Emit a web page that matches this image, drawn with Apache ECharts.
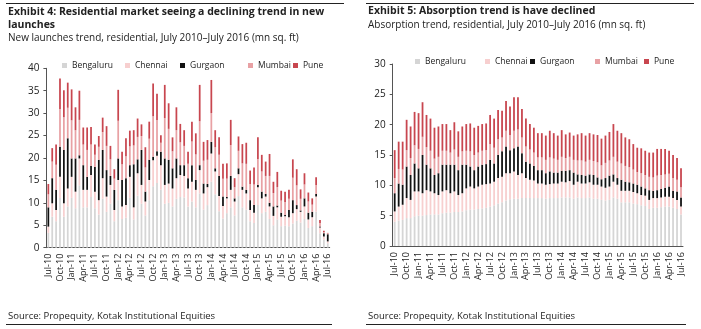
<!DOCTYPE html>
<html>
<head>
<meta charset="utf-8">
<script src="https://cdn.jsdelivr.net/npm/echarts@6/dist/echarts.min.js"></script>
<style>
  html, body { margin: 0; padding: 0; background: #fff; }
  #chart { width: 701px; height: 329px; }
</style>
</head>
<body>
<div id="chart"></div>
<script>
// Month labels, July 2010 to July 2016
const monthNames = ['Jan','Feb','Mar','Apr','May','Jun','Jul','Aug','Sep','Oct','Nov','Dec'];
const categories = [];
for (let y = 2010, m = 6; y < 2016 || (y === 2016 && m <= 6); m++) {
  if (m === 12) { m = 0; y++; }
  if (y === 2016 && m > 6) break;
  categories.push(monthNames[m] + '-' + String(y).slice(2));
}

const cities = ['Bengaluru', 'Chennai', 'Gurgaon', 'Mumbai', 'Pune'];

// New launches (mn sq. ft)
const launchBengaluru = [3.3,6.9,5.9,11.1,6.9,9.2,11.1,8.8,13.9,9.0, 9.0,11.3,8.8,7.4,10.9,8.0,9.8,5.9,10.6,6.4, 6.7,11.1,6.3,11.6,9.8,7.2,10.6,13.7,14.4,12.9, 9.8,10.0,9.2,10.9,11.3,11.2,9.2,10.3,9.0,12.1, 8.5,9.5,14.7,11.9,8.1,6.5,7.7,9.0,7.2,11.5, 9.0,8.5,5.9,5.5,9.5,7.7,8.0,6.4,5.0,6.3, 4.8,4.9,4.8,5.4,6.0,5.6,6.4,4.4,4.8,8.0, 3.2,1.8,1.0];
const launchChennai = [1.4,3.0,2.5,4.7,3.0,4.0,4.7,3.7,6.0,3.9, 3.9,4.9,3.7,3.2,4.6,3.4,4.2,2.5,4.5,2.8, 2.8,4.7,2.7,5.0,4.2,3.1,4.5,5.8,6.1,5.5, 4.2,4.3,4.0,4.6,4.9,4.8,4.0,4.4,3.9,5.2, 3.6,4.0,6.3,5.1,3.4,2.8,3.3,3.9,3.1,4.9, 3.9,3.6,2.5,2.3,4.0,3.3,3.4,2.8,2.1,2.7, 2.1,2.1,2.0,2.3,2.6,2.4,2.8,1.9,2.0,3.4, 1.3,0.7,0.4];
const launchGurgaon = [4.3,5.6,4.5,6.7,11.9,11.2,4.1,7.4,0.7,5.5, 2.9,2.0,5.5,9.0,6.3,5.9,2.0,4.5,4.8,5.9, 6.0,2.6,9.6,3.1,7.8,2.2,4.5,0.8,1.0,3.0, 5.9,5.3,4.5,4.4,2.2,2.4,2.3,3.7,2.2,1.1, 2.2,0.7,2.6,0.7,4.5,2.1,0.3,3.1,0.7,1.3, 0.7,0.8,2.2,1.7,0.5,1.5,0.6,0.8,2.1,0.4, 0.9,0.3,1.6,2.9,0.9,0.3,1.8,1.5,1.2,0.6, 0.2,0.7,1.6];
const launchMumbai = [2.9,3.7,5.6,8.4,7.3,6.8,8.5,6.3,7.9,4.6, 6.0,4.8,2.7,2.9,4.0,5.4,3.7,2.5,8.4,3.5, 4.9,4.2,4.2,5.0,3.1,5.4,4.7,9.0,7.0,2.0, 9.0,6.9,3.8,6.3,5.1,4.3,3.2,5.3,5.7,9.8, 5.1,5.4,6.4,4.7,4.7,4.0,4.1,6.9,2.5,3.9, 5.2,5.8,3.6,4.6,5.8,4.5,4.0,6.0,3.0,4.1, 2.7,2.9,2.5,5.0,4.4,2.6,3.1,2.5,1.6,2.0, 0.8,0.3,0.2];
const launchPune = [2.3,3.0,4.5,6.8,6.0,5.6,6.9,5.1,6.5,3.8, 5.0,3.9,2.3,2.4,3.2,4.4,3.0,2.1,6.9,2.8, 4.0,3.5,3.4,4.1,2.6,4.5,3.8,7.3,5.8,1.7, 7.4,5.7,3.1,5.1,4.1,3.5,2.7,4.4,4.7,8.1, 4.2,4.4,7.4,3.8,3.9,3.3,3.4,5.6,2.0,3.2, 4.3,4.7,3.0,3.8,4.8,3.7,3.2,4.9,2.5,3.4, 2.2,2.3,2.0,4.1,3.6,2.1,2.5,2.0,1.4,1.7, 0.7,0.3,0.1];

// Absorption (mn sq. ft)
const absorbBengaluru = [4.0,4.2,4.3,4.6,4.6,4.9,5.0,5.0,5.1,5.2, 5.2,5.2,5.4,5.5,5.5,5.6,5.6,5.7,5.9,6.0, 6.0,6.1,6.2,6.3,6.5,6.7,7.0,7.2,7.5,7.7, 7.8,7.8,7.9,7.9,7.9,7.9,7.9,7.9,7.8,7.9, 7.9,7.9,8.0,8.0,8.0,7.8,8.0,7.9,7.9,8.0, 7.8,7.8,7.6,7.5,7.6,8.0,7.8,7.2,7.2,7.2, 7.0,6.9,6.7,6.6,6.1,6.3,6.3,6.4,6.5,6.5, 6.3,6.1,5.2];
const absorbChennai = [1.7,2.3,2.5,3.3,3.0,4.1,4.0,3.7,4.1,3.8, 3.5,3.2,3.6,3.7,3.2,3.4,2.8,3.0,3.6,3.8, 3.5,3.7,3.9,3.9,3.8,3.9,4.2,4.2,4.5,4.3, 4.5,3.9,4.1,3.3,3.0,2.9,2.4,2.4,2.3,2.3, 2.4,2.4,2.6,2.5,2.7,2.3,2.6,2.4,2.4,2.5, 2.3,2.3,2.2,2.1,2.2,2.6,2.3,1.9,1.9,1.9, 1.9,1.8,1.7,1.7,1.5,1.6,1.6,1.6,1.6,1.6, 1.6,1.5,1.3];
const absorbGurgaon = [3.0,3.8,3.3,5.2,4.1,4.6,3.8,6.3,4.2,3.8, 3.0,3.6,4.4,4.2,4.7,4.4,4.1,4.7,3.9,3.3, 3.0,3.3,3.3,3.3,3.9,3.0,3.8,4.2,4.4,3.8, 3.8,4.7,3.3,2.7,2.7,2.4,2.2,2.2,1.9,2.1, 1.8,1.8,1.8,1.9,1.8,2.0,1.2,1.4,1.3,1.3, 1.6,1.2,1.2,1.6,1.8,1.2,1.1,1.8,1.5,1.4, 1.4,1.4,1.4,1.2,1.6,1.2,1.3,1.4,1.5,1.7, 1.2,1.4,1.5];
const absorbMumbai = [2.5,2.4,2.5,2.7,2.8,3.0,3.2,3.0,2.9,2.9, 2.7,2.7,2.3,2.3,2.0,2.5,2.2,2.2,2.3,2.5, 2.5,2.3,2.3,2.3,2.6,2.6,2.6,2.3,2.6,2.5, 2.9,2.8,2.6,2.5,2.3,2.2,2.1,2.1,2.2,2.3, 2.3,2.1,2.3,2.1,2.2,2.1,2.3,2.4,2.3,2.4, 2.3,2.5,2.3,2.5,2.5,2.9,2.7,2.7,2.6,2.5, 2.3,2.1,2.2,2.2,2.2,2.2,2.4,2.3,2.2,2.1, 2.1,1.9,1.7];
const absorbPune = [4.6,4.5,4.6,5.0,5.2,5.5,5.9,5.7,5.3,5.3, 5.1,5.0,4.4,4.4,3.7,4.5,4.2,4.1,4.4,4.6, 4.5,4.4,4.4,4.4,4.8,4.8,4.8,4.4,4.9,4.7, 5.5,5.3,4.7,4.6,4.2,4.1,4.0,4.0,4.0,4.4, 4.2,4.0,4.4,3.9,4.0,4.0,4.3,4.5,4.3,4.4, 4.4,4.5,4.4,4.5,4.7,5.4,5.1,5.0,4.7,4.6, 4.2,4.0,4.1,4.0,4.0,4.1,4.4,4.3,4.2,3.8, 3.8,3.6,3.1];

const launchTicks = [0, 40, 5];   // min, max, step
const absorbTicks = [0, 30, 5];

const cityColors = ['#d5d5d5', '#f7cfcf', '#111111', '#e8a1a4', '#c8464f'];
const FONT = 'Open Sans';
const TXT = '#222';

const launchData = [launchBengaluru, launchChennai, launchGurgaon, launchMumbai, launchPune];
const absorbData = [absorbBengaluru, absorbChennai, absorbGurgaon, absorbMumbai, absorbPune];

function xAxisFor(gi) {
  return {
    type: 'category', gridIndex: gi, data: categories,
    axisLine: { lineStyle: { color: '#555', width: 1 } },
    axisTick: { show: false },
    axisLabel: { interval: 2, rotate: 90, fontSize: 9, color: TXT, fontFamily: FONT, margin: 6 }
  };
}
function yAxisFor(gi, t) {
  return {
    type: 'value', gridIndex: gi, min: t[0], max: t[1], interval: t[2],
    axisLine: { show: true, lineStyle: { color: '#555', width: 1 } },
    axisTick: { show: true, length: 3, lineStyle: { color: '#555' } },
    splitLine: { show: false },
    axisLabel: { fontSize: 10, color: TXT, fontFamily: FONT, margin: 7 }
  };
}
function seriesFor(gi, data, stack) {
  return cities.map((c, i) => ({
    name: c, type: 'bar', stack: stack, xAxisIndex: gi, yAxisIndex: gi,
    data: data[i], barWidth: '45%',
    itemStyle: { color: cityColors[i] }
  }));
}

// one legend block per city so each entry sits at its own spot
const launchLegendX = [62, 125, 180, 248, 293];
const absorbLegendX = [415, 485, 530, 595, 644];
function legendsFor(xs, top) {
  return cities.map((c, i) => ({
    data: [c], left: xs[i], top: top, selectedMode: false,
    icon: 'rect', itemWidth: 5, itemHeight: 5, padding: 0,
    textStyle: { fontSize: 8.5, color: TXT, fontFamily: FONT }
  }));
}

const chart = echarts.init(document.getElementById('chart'), null, { renderer: 'canvas' });
chart.setOption({
  animation: false,
  backgroundColor: '#fff',
  textStyle: { fontFamily: FONT },
  title: [
    { text: 'Exhibit 4: Residential market seeing a declining trend in new\nlaunches',
      left: 8, top: 6, padding: 0,
      textStyle: { fontSize: 10.5, fontWeight: 'bold', color: TXT, lineHeight: 13, fontFamily: FONT } },
    { text: 'New launches trend, residential, July 2010\u2013July 2016 (mn sq. ft)',
      left: 8, top: 33, padding: 0,
      textStyle: { fontSize: 10, fontWeight: 'normal', color: TXT, fontFamily: FONT } },
    { text: 'Exhibit 5: Absorption trend is have declined',
      left: 368, top: 6, padding: 0,
      textStyle: { fontSize: 10.5, fontWeight: 'bold', color: TXT, fontFamily: FONT } },
    { text: 'Absorption trend, residential, July 2010\u2013July 2016 (mn sq. ft)',
      left: 368, top: 20, padding: 0,
      textStyle: { fontSize: 10, fontWeight: 'normal', color: TXT, fontFamily: FONT } },
    { text: 'Source: Propequity, Kotak Institutional Equities',
      left: 8, top: 311, padding: 0,
      textStyle: { fontSize: 9.5, fontWeight: 'normal', color: TXT, fontFamily: FONT } },
    { text: 'Source: Propequity, Kotak Institutional Equities',
      left: 368, top: 311, padding: 0,
      textStyle: { fontSize: 9.5, fontWeight: 'normal', color: TXT, fontFamily: FONT } }
  ],
  legend: legendsFor(launchLegendX, 61).concat(legendsFor(absorbLegendX, 57)),
  grid: [
    { left: 46.4, top: 68.3, width: 283.3, height: 179.4 },
    { left: 392.7, top: 64, width: 290.3, height: 182 }
  ],
  xAxis: [xAxisFor(0), xAxisFor(1)],
  yAxis: [yAxisFor(0, launchTicks), yAxisFor(1, absorbTicks)],
  series: seriesFor(0, launchData, 'launch').concat(seriesFor(1, absorbData, 'absorb')),
  graphic: [
    { type: 'line', shape: { x1: 6, y1: 3.5, x2: 344, y2: 3.5 }, style: { stroke: '#222', lineWidth: 1 } },
    { type: 'line', shape: { x1: 366, y1: 3.5, x2: 694, y2: 3.5 }, style: { stroke: '#222', lineWidth: 1 } },
    { type: 'line', shape: { x1: 6, y1: 324.5, x2: 332, y2: 324.5 }, style: { stroke: '#222', lineWidth: 1 } },
    { type: 'line', shape: { x1: 366, y1: 324.5, x2: 686, y2: 324.5 }, style: { stroke: '#222', lineWidth: 1 } }
  ]
});
</script>
</body>
</html>
